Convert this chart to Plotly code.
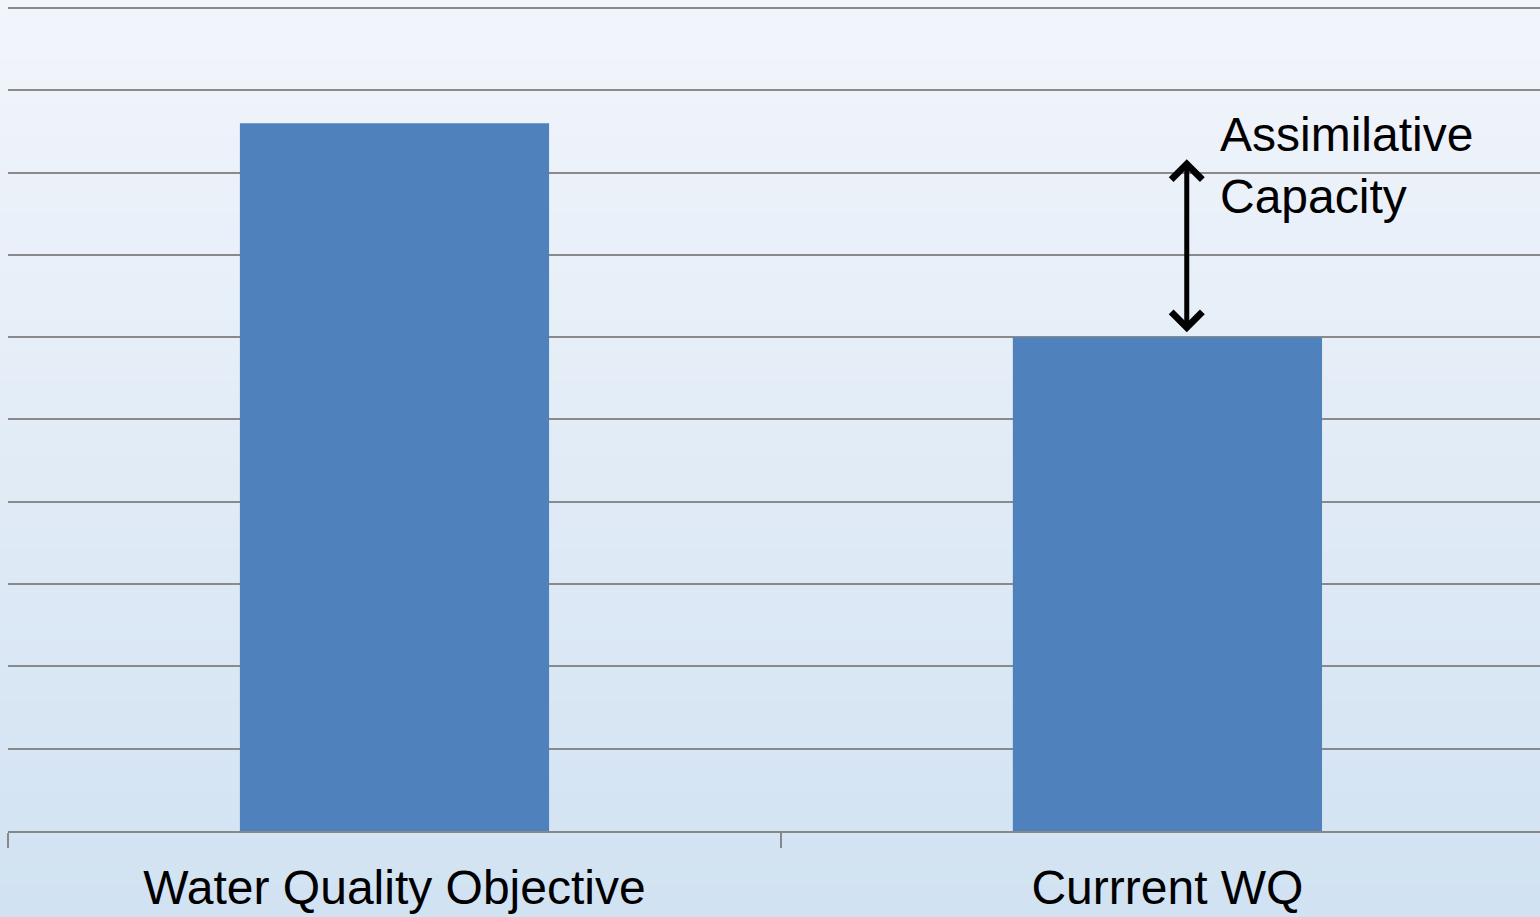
import plotly.graph_objects as go

categories = ["Water Quality Objective", "Currrent WQ"]
values = [8.6, 6.0]
arrow_low = 6.06
arrow_high = 8.18
label_text = "Assimilative<br>Capacity"

fig = go.Figure()
fig.add_trace(go.Bar(
    x=categories, y=values, width=0.4,
    marker=dict(color="#4f81bd", line=dict(width=0)),
    hoverinfo="skip", showlegend=False,
))

# background gradient
def lerp(c1, c2, t):
    return tuple(round(a + (b - a) * t) for a, b in zip(c1, c2))

top_c = (0xf2, 0xf5, 0xfb)
bot_c = (0xd1, 0xe2, 0xf2)
n = 60
top_m = 3
ph = 917 - 86 - top_m
shapes = []
for i in range(n):
    t = i / (n - 1)
    r, g, b = lerp(top_c, bot_c, t)
    shapes.append(dict(type="rect", xref="paper", yref="paper",
                       x0=-0.01, x1=1.01,
                       y1=1 + top_m / ph - i * (917 / ph) / n + 0.002,
                       y0=1 + top_m / ph - (i + 1) * (917 / ph) / n - 0.002,
                       fillcolor=f"rgb({r},{g},{b})", line=dict(width=0),
                       layer="below"))

fig.update_layout(
    width=1540, height=917,
    margin=dict(l=8, r=0, t=top_m, b=86),
    paper_bgcolor="#e4ecf6",
    plot_bgcolor="rgba(0,0,0,0)",
    shapes=shapes,
    font=dict(family="Liberation Sans, Arial, sans-serif", size=48, color="black"),
    xaxis=dict(
        range=[-0.5, 1.482],
        showline=True, linecolor="#888888", linewidth=2,
        ticks="outside", tickson="boundaries", ticklen=15, tickcolor="#888888", tickwidth=1.5,
        showgrid=False, ticklabelstandoff=13,
        tickfont=dict(size=48, color="black"),
    ),
    yaxis=dict(
        range=[0, 10.06], dtick=1, showticklabels=False,
        showgrid=True, gridcolor="#8a8a8a", gridwidth=1.6,
        zeroline=False, showline=False,
    ),
    annotations=[
        dict(x=1.025, y=arrow_low, ax=1.025, ay=arrow_high,
             xref="x", yref="y", axref="x", ayref="y",
             showarrow=True, arrowhead=4, arrowside="end+start",
             arrowwidth=5, arrowsize=1.2, arrowcolor="black", text=""),
        dict(x=1.066, y=8.08, xref="x", yref="y", text=label_text,
             showarrow=False, xanchor="left", yanchor="middle", align="left",
             font=dict(size=48, color="black")),
    ],
    bargap=0.6,
)

fig.write_html("out.html")
